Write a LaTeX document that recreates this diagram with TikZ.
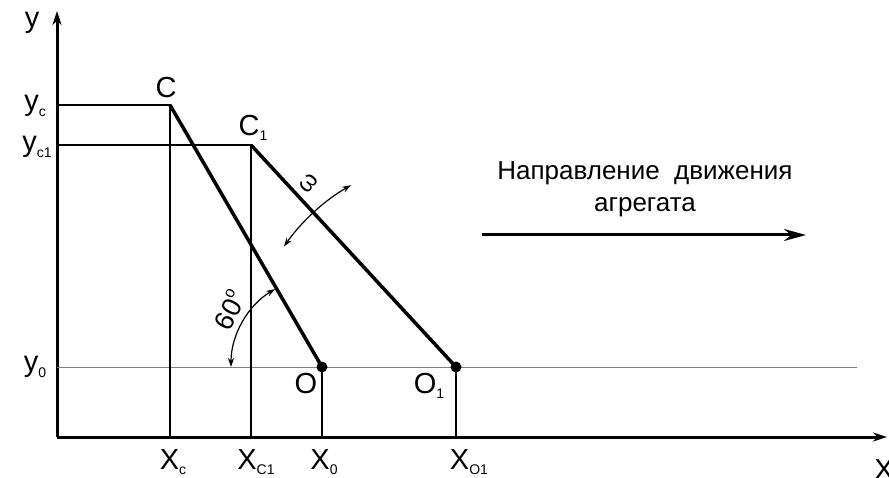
\documentclass[tikz,border=0pt]{standalone}
\usepackage{fontspec}
\setmainfont{Liberation Sans}
\usetikzlibrary{arrows.meta}
\newcommand{\lsub}[1]{\raisebox{-0.35ex}{\fontsize{14}{14}\selectfont #1}}
\begin{document}
\begin{tikzpicture}[x=1pt, y=1pt, >={Stealth[length=14pt, width=9pt]},
    lbl/.style={font=\fontsize{29}{32}\selectfont, inner sep=0pt},
    bar/.style={line width=3.5pt},
    guide/.style={line width=1.4pt}]
\useasboundingbox (0,0) rectangle (889,477);
% points
\coordinate (org) at (57,40);
\coordinate (xend) at (887,40);
\coordinate (yend) at (57,466);
\coordinate (C) at (170,372);
\coordinate (C1) at (251,332);
\coordinate (O) at (322,110);
\coordinate (O1) at (456,110);
\coordinate (y0end) at (857,110);
% axes
\draw[->, line width=3pt] (org) -- (xend);
\draw[->, line width=3pt] (org) -- (yend);
% guide lines
\draw[gray, line width=1pt] (org |- O) -- (y0end);
\draw[guide] (org |- C) -- (C) -- (C |- org);
\draw[guide] (org |- C1) -- (C1) -- (C1 |- org);
\draw[guide] (O) -- (O |- org);
\draw[guide] (O1) -- (O1 |- org);
% links
\draw[bar] (C) -- (O);
\draw[bar] (C1) -- (O1);
\fill (O) circle (5.5);
\fill (O1) circle (5.5);
% angles
\draw[<->, line width=1.2pt, >={Stealth[length=9pt, width=6pt]}] ([shift={(180:91)}]O) arc[start angle=180, end angle=121, radius=91];
\draw[<->, line width=1.2pt, >={Stealth[length=9pt, width=6pt]}] ([shift={(145:210)}]O1) arc[start angle=145, end angle=120, radius=210];
\node[lbl, rotate=62, font=\fontsize{27}{30}\selectfont] (ang) at (229,167) {60\raisebox{0.9ex}{\fontsize{16}{16}\selectfont o}};
\node[lbl, rotate=50, font=\fontsize{24}{26}\selectfont] (om) at (309,294) {ω};
% labels
\node[lbl] (ly) at (32,454) {y};
\node[lbl] (lyc) at (35,371) {y\lsub{c}};
\node[lbl] (lyc1) at (37,330) {y\lsub{c1}};
\node[lbl] (ly0) at (35,110) {y\lsub{0}};
\node[lbl] (lC) at (166,389) {C};
\node[lbl] (lC1) at (253,349) {C\lsub{1}};
\node[lbl] (lO) at (306,93) {O};
\node[lbl] (lO1) at (429,91) {O\lsub{1}};
\node[lbl] (lxc) at (173,15) {X\lsub{c}};
\node[lbl] (lxc1) at (256,15) {X\lsub{C1}};
\node[lbl] (lx0) at (324,15) {X\lsub{0}};
\node[lbl] (lxo1) at (469,15) {X\lsub{O1}};
\node[lbl] (lx) at (884,7) {X};
% direction
\node[lbl, align=center, font=\fontsize{26}{32}\selectfont] (dir) at (645,288) {Направление~~движения\\агрегата};
\coordinate (da) at (482,242);
\coordinate (db) at (806,242);
\draw[->, line width=3pt, >={Stealth[length=22pt, width=12pt]}] (da) -- (db);
\end{tikzpicture}
\end{document}
